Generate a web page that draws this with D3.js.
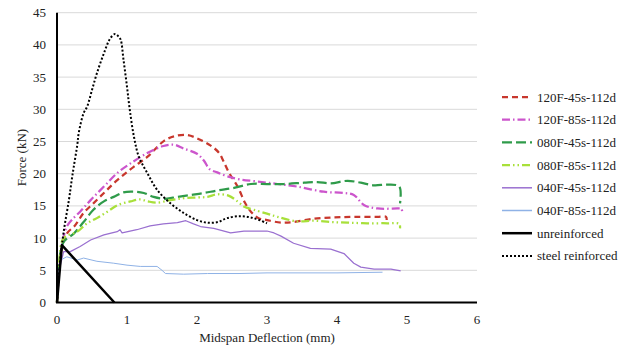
<!DOCTYPE html>
<html>
<head>
<meta charset="utf-8">
<script src="https://cdn.jsdelivr.net/npm/d3@7"></script>
<style>
  body { margin: 0; background: #fff; }
</style>
</head>
<body>
<script>
const w = 629
const h = 348
const font = "'Liberation Serif', 'Times New Roman', Times, 'DejaVu Serif', serif"

const xTicks = [0, 1, 2, 3, 4, 5, 6]
const yTicks = [0, 5, 10, 15, 20, 25, 30, 35, 40, 45]

// curves: [deflection mm, force kN]
const f120_45 = [[0,0],[0.03,5],[0.07,8.5],[0.14,10.7],[0.26,12.0],[0.38,13.9],[0.52,15.4],[0.67,17.0],[0.81,18.5],[0.95,19.8],[1.10,21.1],[1.29,22.6],[1.41,23.9],[1.53,25.1],[1.67,25.8],[1.86,26.0],[2.02,25.4],[2.19,24.4],[2.31,23.3],[2.38,21.9],[2.46,20.1],[2.58,18.0],[2.69,15.4],[2.77,14.1],[2.88,13.1],[3.0,12.8],[3.2,12.4],[3.38,12.5],[3.67,13.0],[3.96,13.2],[4.24,13.3],[4.58,13.3],[4.70,13.3],[4.71,12.8]]
const f120_85 = [[0,0],[0.04,6.5],[0.09,10],[0.14,11.8],[0.21,12.8],[0.33,14.1],[0.48,15.9],[0.67,18.0],[0.86,20.1],[1.05,21.6],[1.29,23.2],[1.52,24.3],[1.67,24.5],[1.81,23.9],[2.0,23.1],[2.1,22.0],[2.18,20.7],[2.29,20.2],[2.43,19.6],[2.62,19.1],[2.86,18.8],[3.15,18.4],[3.43,18.0],[3.81,17.2],[4.1,17.0],[4.24,16.7],[4.39,15.1],[4.58,14.6],[4.86,14.6],[4.92,14.6],[4.93,14.0]]
const f080_45 = [[0,0],[0.03,6],[0.095,9.4],[0.24,10.7],[0.38,12.5],[0.52,14.4],[0.67,15.7],[0.81,16.4],[0.95,17.1],[1.1,17.2],[1.24,17.0],[1.38,16.4],[1.55,16.1],[1.72,16.4],[1.91,16.7],[2.1,17.0],[2.29,17.4],[2.53,17.8],[2.77,18.4],[3.0,18.4],[3.24,18.4],[3.53,18.6],[3.72,18.7],[3.91,18.5],[4.15,18.9],[4.34,18.6],[4.53,18.2],[4.72,18.3],[4.89,18.0],[4.9,15.4]]
const f080_85 = [[0,0],[0.03,6],[0.095,10.0],[0.29,11.0],[0.43,12.3],[0.57,13.1],[0.72,14.1],[0.86,15.1],[1.05,15.7],[1.19,16.0],[1.3,15.7],[1.43,15.5],[1.62,15.9],[1.81,16.2],[2.0,16.3],[2.15,16.4],[2.29,16.8],[2.45,16.6],[2.58,15.7],[2.67,14.9],[2.81,14.4],[3.0,13.8],[3.15,13.3],[3.43,12.6],[3.67,12.7],[3.91,12.5],[4.15,12.4],[4.43,12.3],[4.72,12.3],[4.89,12.2],[4.9,11.5]]
const f040_45 = [[0,0],[0.03,5],[0.095,7.9],[0.19,7.9],[0.33,8.7],[0.48,9.7],[0.67,10.5],[0.86,11.0],[0.9,11.3],[0.93,10.8],[1.14,11.3],[1.33,11.9],[1.52,12.2],[1.72,12.4],[1.84,12.7],[1.95,12.2],[2.05,11.8],[2.24,11.5],[2.48,10.8],[2.67,11.1],[3.0,11.1],[3.1,10.8],[3.2,10.3],[3.38,9.2],[3.62,8.4],[3.91,8.3],[4.1,7.6],[4.24,6.1],[4.34,5.5],[4.53,5.2],[4.77,5.2],[4.91,4.9]]
const f040_85 = [[0,0],[0.02,4],[0.05,6.6],[0.14,7.1],[0.29,6.6],[0.38,6.9],[0.57,6.4],[0.81,6.1],[1.0,5.8],[1.19,5.6],[1.43,5.6],[1.5,5.0],[1.55,4.5],[1.81,4.4],[2.15,4.5],[2.6,4.5],[3.0,4.6],[3.5,4.6],[4.0,4.6],[4.65,4.7]]
const unreinforced = [[0,0],[0.07,8.9],[0.82,0]]
const steel = [[0,0],[0.04,6],[0.1,11.3],[0.17,15.9],[0.21,19.0],[0.24,21.1],[0.29,24.5],[0.31,26.3],[0.38,29.4],[0.43,30.4],[0.5,33.0],[0.57,35.6],[0.67,38.7],[0.76,41.0],[0.83,41.7],[0.88,41.3],[0.91,40.8],[0.95,37.7],[1.0,33.5],[1.04,29.9],[1.1,25.7],[1.17,22.6],[1.29,20.1],[1.43,17.5],[1.62,15.4],[1.81,13.9],[2.0,12.8],[2.15,12.4],[2.3,12.5],[2.43,13.1],[2.62,13.4],[2.81,13.1],[3.0,12.3]]

const seriesNames = ['120F-45s-112d','120F-85s-112d','080F-45s-112d','080F-85s-112d','040F-45s-112d','040F-85s-112d','unreinforced','steel reinforced']
const seriesData = [f120_45, f120_85, f080_45, f080_85, f040_45, f040_85, unreinforced, steel]
const seriesStyle = [
    {color: '#C8372D', width: 2.25, dash: '6,4', smooth: true},
    {color: '#CC55CC', width: 2.25, dash: '8,3,1.5,3', smooth: true},
    {color: '#2F9B4A', width: 2.25, dash: '10,4', smooth: true},
    {color: '#A8E03A', width: 2.25, dash: '8,3,1.5,3,1.5,3', smooth: true},
    {color: '#9A70D0', width: 1.25, dash: null, smooth: false},
    {color: '#8FB2E6', width: 1, dash: null, smooth: false},
    {color: '#000000', width: 2.5, dash: null, smooth: false},
    {color: '#000000', width: 2, dash: '2,2', smooth: true}
]

const margin = {left: 57, top: 13, right: 153, bottom: 45}

const x = d3.scaleLinear().domain([0, 6]).range([margin.left, w - margin.right + 1])
const y = d3.scaleLinear().domain([0, 45]).range([h - margin.bottom - 0.5, margin.top - 0.3])

const svg = d3.select('body').append('svg')
    .attr('width', w)
    .attr('height', h)
    .style('font-family', font)

// gridlines
svg.append('g')
    .selectAll('line')
    .data(yTicks.filter(d => d > 0))
    .enter()
    .append('line')
    .attr('x1', x(0))
    .attr('x2', x(6))
    .attr('y1', d => y(d))
    .attr('y2', d => y(d))
    .style('stroke', '#d9d9d9')
    .style('stroke-width', 1)

// tick labels
svg.append('g')
    .selectAll('text')
    .data(yTicks)
    .enter()
    .append('text')
    .attr('x', x(0) - 11)
    .attr('y', d => y(d) + 4.5)
    .attr('text-anchor', 'end')
    .style('font-family', font)
    .style('font-size', '13px')
    .style('fill', '#222')
    .text(d => d)

svg.append('g')
    .selectAll('text')
    .data(xTicks)
    .enter()
    .append('text')
    .attr('x', d => x(d))
    .attr('y', y(0) + 21)
    .attr('text-anchor', 'middle')
    .style('font-family', font)
    .style('font-size', '13px')
    .style('fill', '#222')
    .text(d => d)

// curves
seriesData.forEach(function (data, i) {
    const s = seriesStyle[i]
    const line = d3.line()
        .x(d => x(d[0]))
        .y(d => y(d[1]))
        .curve(s.smooth ? d3.curveCatmullRom.alpha(0.5) : d3.curveLinear)

    svg.append('path')
        .datum(data)
        .attr('d', line)
        .style('fill', 'none')
        .style('stroke', s.color)
        .style('stroke-width', s.width)
        .style('stroke-dasharray', s.dash)
        .style('stroke-linejoin', 'round')
})

// axes lines
svg.append('line')
    .attr('x1', x(0)).attr('x2', x(0))
    .attr('y1', y(0)).attr('y2', y(45))
    .style('stroke', '#000').style('stroke-width', 2)

svg.append('line')
    .attr('x1', x(0) - 1).attr('x2', x(6))
    .attr('y1', y(0)).attr('y2', y(0))
    .style('stroke', '#000').style('stroke-width', 2)

// axis titles
svg.append('text')
    .attr('x', (x(0) + x(6)) / 2)
    .attr('y', 342)
    .attr('text-anchor', 'middle')
    .style('font-family', font)
    .style('font-size', '13px')
    .style('fill', '#222')
    .text('Midspan Deflection (mm)')

svg.append('text')
    .attr('transform', 'translate(26,' + ((y(0) + y(45)) / 2) + ') rotate(-90)')
    .attr('text-anchor', 'middle')
    .style('font-family', font)
    .style('font-size', '13px')
    .style('fill', '#222')
    .text('Force (kN)')

// legend
const legend = svg.append('g')
    .selectAll('g')
    .data(seriesNames)
    .enter()
    .append('g')
    .attr('transform', (d, i) => 'translate(502,' + (97 + i * 22.7) + ')')

legend.append('line')
    .attr('x1', 0)
    .attr('x2', 30)
    .style('stroke', (d, i) => seriesStyle[i].color)
    .style('stroke-width', (d, i) => Math.max(seriesStyle[i].width, 1.5))
    .style('stroke-dasharray', (d, i) => seriesStyle[i].dash)

legend.append('text')
    .attr('x', 35)
    .attr('y', 4.5)
    .style('font-family', font)
    .style('font-size', '13px')
    .style('fill', '#222')
    .text(d => d)
</script>
</body>
</html>
